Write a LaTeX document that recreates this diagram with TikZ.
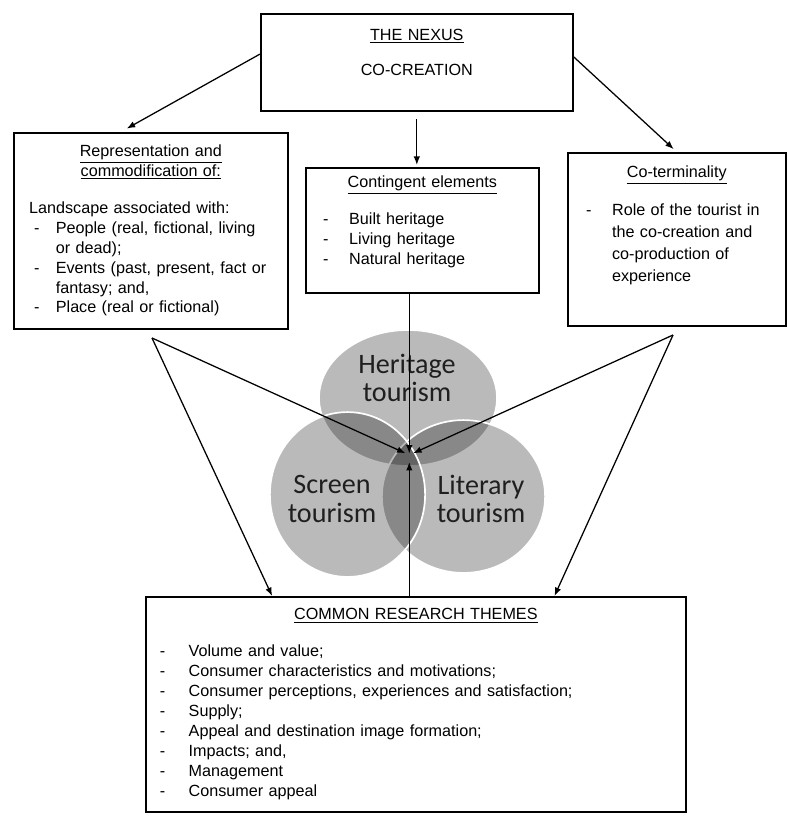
\documentclass[tikz,border=0pt]{standalone}
\usepackage{fontspec}
\setmainfont{Liberation Sans}
\newfontfamily\vennfont{Carlito}
\usepackage{tikz}
\usetikzlibrary{arrows.meta}

% dash item and hanging indent
\newcommand{\dl}[2][19pt]{\makebox[#1][l]{\hspace{3.5pt}-}#2}
\newcommand{\ind}[1][19pt]{\hspace*{#1}}

\begin{document}
\begin{tikzpicture}[x=0.025cm, y=-0.025cm,
			box/.style={rectangle, draw=black, line width=1.1pt, fill=white, anchor=north west,
					align=left, inner ysep=4pt, font=\fontsize{11.5}{14.2}\selectfont},
			venn/.style={fill=black, fill opacity=0.27, draw=white, draw opacity=1, line width=1.2pt},
			vlabel/.style={align=center, text=black!88, font=\vennfont\fontsize{20}{20.5}\selectfont},
			line/.style={draw, line width=0.9pt, -{Latex[length=6pt, width=4.6pt]}}]

		\useasboundingbox (0,0) rectangle (788,816);

		% Define nodes
		\node [box, align=center, text width=200pt, inner xsep=10pt, minimum width=7.8cm, minimum height=2.425cm] (nexus) at (260,13)
			{\underline{THE NEXUS}\\[11pt]CO-CREATION\\\rule{0pt}{14pt}};
		\node [box, text width=173pt, inner xsep=10.6pt, minimum width=6.85cm, minimum height=4.9cm] (rep) at (13,132) {%
			{\centering\fontsize{11.5}{12}\selectfont\underline{Representation and}\\\underline{commodification of:}\par}
			\vspace{12pt}
			Landscape associated with:\\
			\dl{People (real, fictional, living}\\
			\ind or dead);\\
			\dl{Events (past, present, fact or}\\
			\ind fantasy; and,\\
			\dl{Place (real or fictional)}};
		\node [box, text width=148pt, inner xsep=8.5pt, minimum width=5.825cm, minimum height=3.125cm] (cont) at (305,167) {%
			{\centering\underline{Contingent elements}\par}
			\vspace{12pt}
			\dl[22pt]{Built heritage}\\
			\dl[22pt]{Living heritage}\\
			\dl[22pt]{Natural heritage}\\
			\rule{0pt}{11pt}};
		\node [box, text width=136pt, inner xsep=9.2pt, minimum width=5.45cm, minimum height=4.325cm,
			font=\fontsize{11.5}{15.6}\selectfont] (coterm) at (567,152) {%
			{\centering\underline{Co-terminality}\par}
			\vspace{11pt}
			\dl[22pt]{Role of the tourist in}\\
			\ind[22pt]the co-creation and\\
			\ind[22pt]co-production of\\
			\ind[22pt]experience\\
			\rule{0pt}{19pt}};
		\node [box, text width=371pt, inner xsep=5.7pt, minimum width=13.5cm, minimum height=5.375cm] (themes) at (145,596) {%
			{\centering\underline{COMMON RESEARCH THEMES}\par}
			\vspace{12pt}
			\dl[24pt]{Volume and value;}\\
			\dl[24pt]{Consumer characteristics and motivations;}\\
			\dl[24pt]{Consumer perceptions, experiences and satisfaction;}\\
			\dl[24pt]{Supply;}\\
			\dl[24pt]{Appeal and destination image formation;}\\
			\dl[24pt]{Impacts; and,}\\
			\dl[24pt]{Management}\\
			\dl[24pt]{Consumer appeal}};

		% Venn circles
		\path [venn] (408,398) ellipse [x radius=2.225cm, y radius=1.7cm];
		\path [venn] (463.5,496.5) ellipse [x radius=2.04cm, y radius=1.91cm];
		\path [venn] (347.5,494.5) ellipse [x radius=1.94cm, y radius=2.06cm];
		\node [vlabel] (her) at (407,378) {Heritage\\tourism};
		\node [vlabel] (scr) at (332,499) {Screen\\tourism};
		\node [vlabel] (lit) at (481,499) {Literary\\tourism};

		\coordinate (hub) at (409.3,455);
		\coordinate (lfork) at (152,338);
		\coordinate (rfork) at (673,335);

		% Draw connections
		\path [line, shorten >=5pt] (nexus.177) -- (rep.107);
		\path [line, shorten >=3pt] (nexus.2) -- (coterm.north);
		\path [line, shorten <=5.5pt, shorten >=1.5pt] (nexus.south) -- (nexus.south |- cont.north);
		\path [line, shorten >=1pt] (cont.south -| hub) -- (hub);
		\path [line, shorten >=5pt] (themes.north -| hub) -- (hub);
		\path [line, shorten >=3pt] (lfork) -- (hub);
		\path [line, shorten >=3pt] (rfork) -- (hub);
		\path [line] (lfork) -- (themes.143);
		\path [line] (rfork) -- (themes.38);

	\end{tikzpicture}
\end{document}
